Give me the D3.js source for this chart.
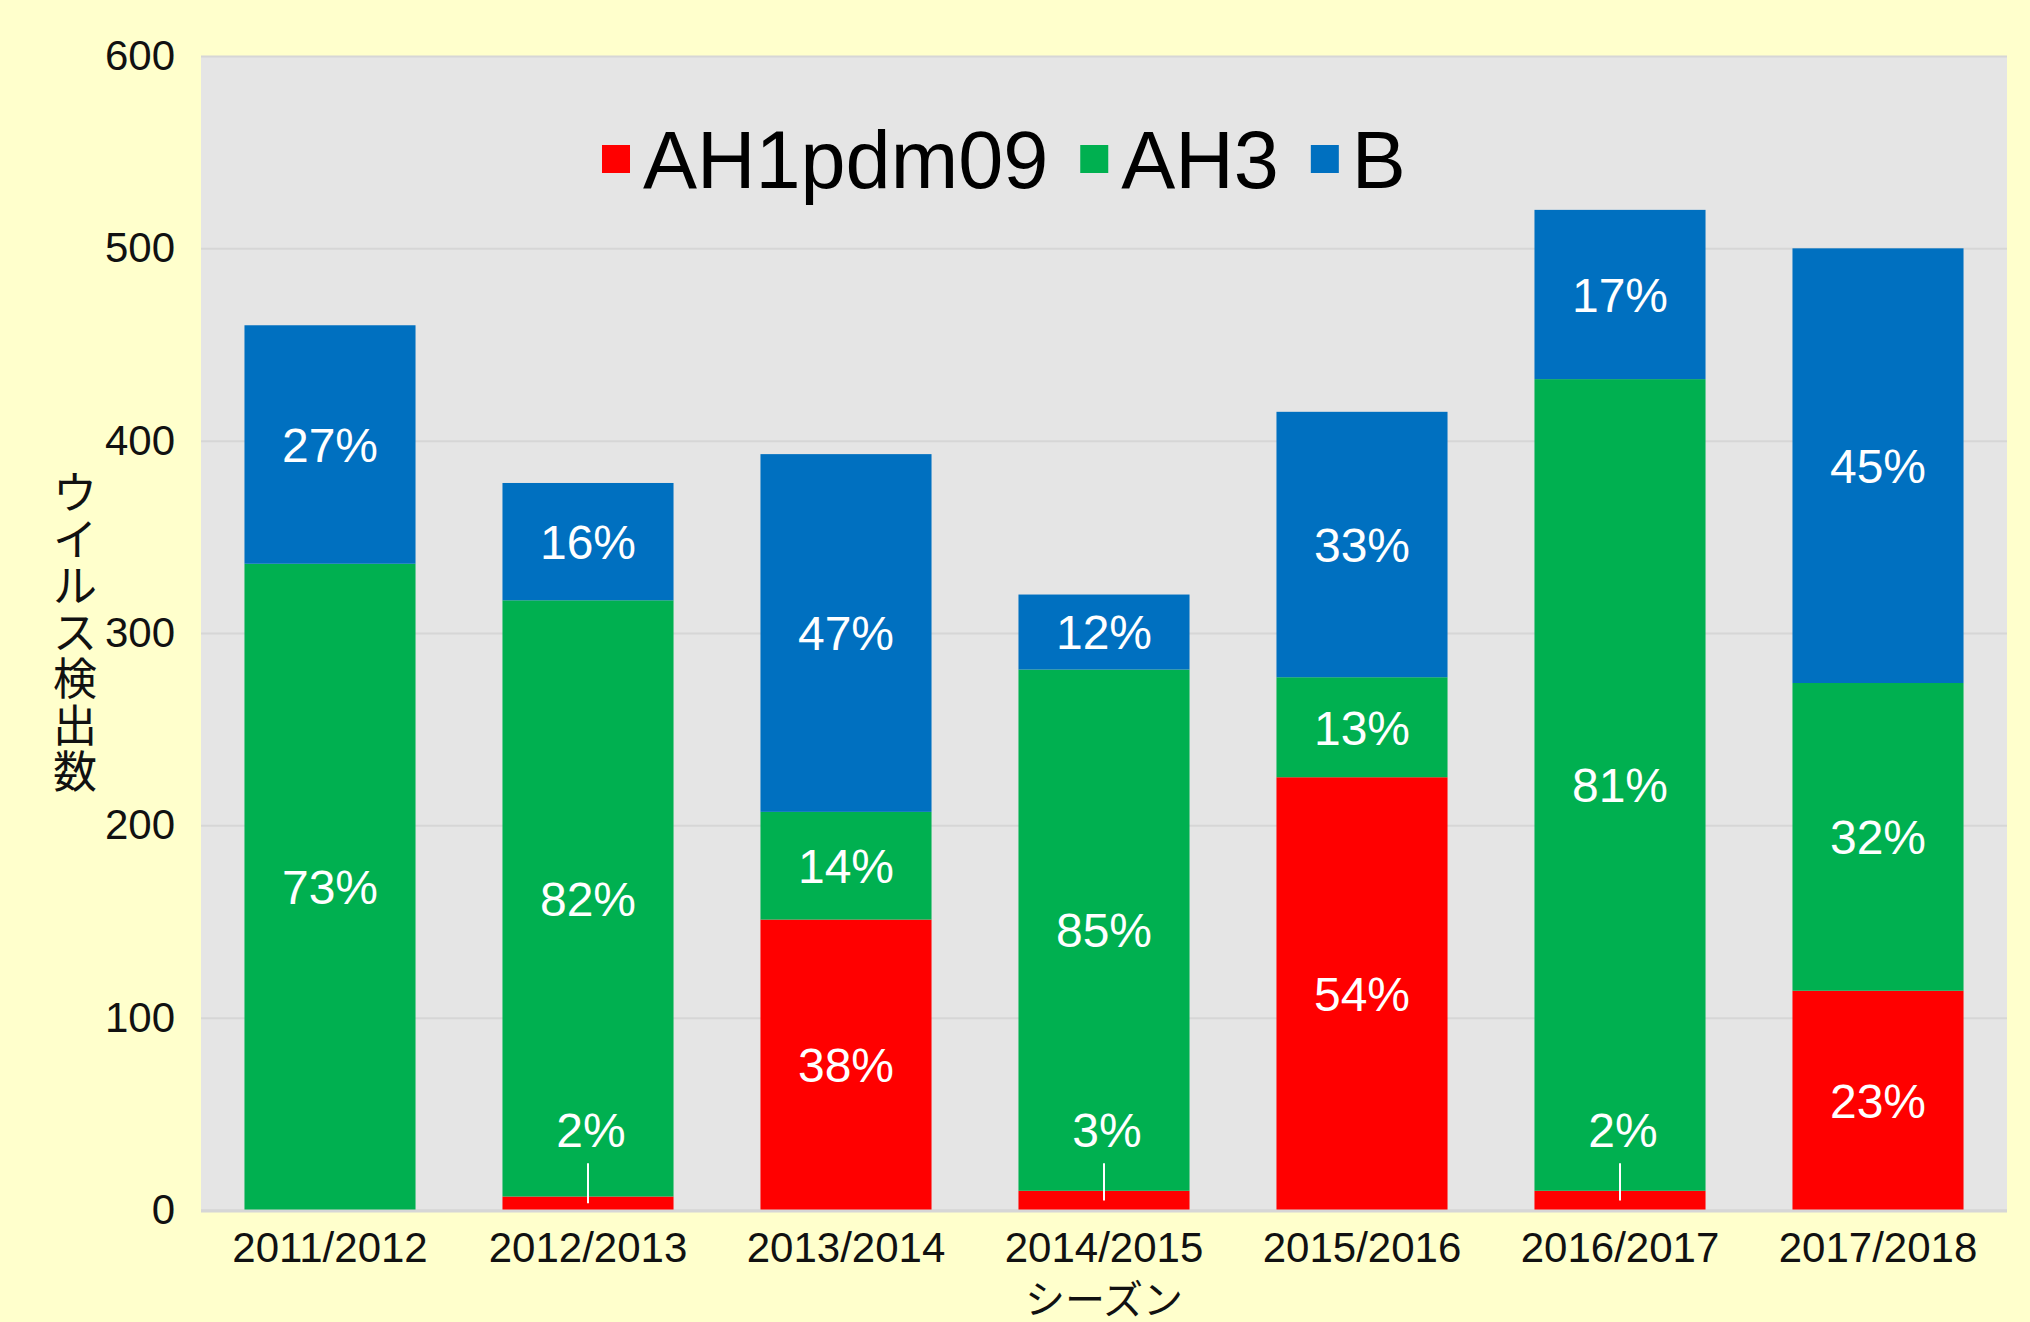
<!DOCTYPE html>
<html>
<head>
<meta charset="utf-8">
<script src="https://cdn.jsdelivr.net/npm/d3@7"></script>
<style>
  html, body { margin: 0; padding: 0; background: #ffffcc; }
  svg { display: block; }
</style>
</head>
<body>
<div id="chart"></div>
<script>
// Virus detections per season, stacked by subtype
const categories = ['2011/2012', '2012/2013', '2013/2014', '2014/2015', '2015/2016', '2016/2017', '2017/2018'];
const seriesNames = ['AH1pdm09', 'AH3', 'B'];
const ah1Values = [0, 7, 151, 10, 225, 10, 114];
const ah3Values = [336, 310, 56, 271, 52, 422, 160];
const bValues = [124, 61, 186, 39, 138, 88, 226];
const yTicks = [0, 100, 200, 300, 400, 500, 600];
const yTitle = 'ウイルス検出数';
const xTitle = 'シーズン';

const W = 2030, H = 1322;
const margin = { top: 56, right: 23, bottom: 112, left: 201 };
const colors = ['#ff0000', '#00b050', '#0070c0'];
const font = "'Liberation Sans', 'Noto Sans CJK JP', sans-serif";

const svg = d3.select('#chart')
  .append('svg')
  .attr('width', W)
  .attr('height', H)
  .style('font-family', font);

svg.append('rect')
  .attr('width', W)
  .attr('height', H)
  .attr('fill', '#ffffcc');

const x = d3.scaleBand()
  .domain(categories)
  .range([margin.left, W - margin.right])
  .paddingInner(0.337)
  .paddingOuter(0.1685);

const y = d3.scaleLinear()
  .domain([0, 600])
  .range([H - margin.bottom, margin.top]);

// plot background
svg.append('rect')
  .attr('x', margin.left)
  .attr('y', y(600))
  .attr('width', W - margin.right - margin.left)
  .attr('height', y(0) - y(600))
  .attr('fill', '#e5e5e5');

// gridlines
svg.append('g')
  .attr('transform', `translate(${margin.left},0)`)
  .call(d3.axisLeft(y).tickValues(yTicks).tickSize(-(W - margin.right - margin.left)).tickFormat(''))
  .call(g => g.select('.domain').remove())
  .call(g => g.selectAll('line').attr('stroke', '#d6d6d6').attr('stroke-width', 2));

// y tick labels
svg.append('g')
  .attr('transform', `translate(${margin.left},0)`)
  .call(d3.axisLeft(y).tickValues(yTicks).tickSize(0).tickPadding(26))
  .call(g => g.select('.domain').remove())
  .call(g => g.selectAll('text')
    .style('font-family', font)
    .style('font-size', '42px')
    .attr('fill', '#111'));

// stacked data
const rows = categories.map((c, i) => ({
  season: c,
  AH1pdm09: ah1Values[i],
  AH3: ah3Values[i],
  B: bValues[i]
}));
const stacked = d3.stack().keys(seriesNames)(rows);

const layers = svg.append('g')
  .selectAll('g')
  .data(stacked)
  .join('g')
  .attr('fill', (d, i) => colors[i]);

layers.selectAll('rect')
  .data(d => d)
  .join('rect')
  .attr('x', d => x(d.data.season))
  .attr('y', d => y(d[1]))
  .attr('width', x.bandwidth())
  .attr('height', d => y(d[0]) - y(d[1]));

// bottom axis line
svg.append('line')
  .attr('x1', margin.left)
  .attr('x2', W - margin.right)
  .attr('y1', y(0) + 1)
  .attr('y2', y(0) + 1)
  .attr('stroke', '#d6d6d6')
  .attr('stroke-width', 3);

// percentage labels
const labels = svg.append('g')
  .style('font-size', '48px')
  .attr('fill', '#fff')
  .attr('text-anchor', 'middle');

stacked.forEach(layer => {
  layer.forEach(d => {
    const v = d[1] - d[0];
    if (v <= 0) return;
    const total = d.data.AH1pdm09 + d.data.AH3 + d.data.B;
    const pct = Math.round(v / total * 100) + '%';
    const cx = x(d.data.season) + x.bandwidth() / 2;
    if (v < 20) {
      // small slice: label above with a leader line
      const ly = y(42);
      labels.append('text')
        .attr('x', cx + 3)
        .attr('y', ly)
        .attr('dy', '0.36em')
        .text(pct);
      labels.append('line')
        .attr('x1', cx)
        .attr('x2', cx)
        .attr('y1', ly + 34)
        .attr('y2', y((d[0] + d[1]) / 2))
        .attr('stroke', '#fff')
        .attr('stroke-width', 2);
    } else {
      labels.append('text')
        .attr('x', cx)
        .attr('y', y((d[0] + d[1]) / 2))
        .attr('dy', '0.36em')
        .text(pct);
    }
  });
});

// x tick labels
svg.append('g')
  .attr('transform', `translate(0,${y(0)})`)
  .call(d3.axisBottom(x).tickSize(0).tickPadding(22))
  .call(g => g.select('.domain').remove())
  .call(g => g.selectAll('text')
    .style('font-family', font)
    .style('font-size', '42px')
    .attr('fill', '#111'));

// x axis title
svg.append('text')
  .attr('x', x.range()[0] + (x.range()[1] - x.range()[0]) / 2)
  .attr('y', 1300)
  .attr('text-anchor', 'middle')
  .attr('dominant-baseline', 'central')
  .style('font-size', '40px')
  .attr('fill', '#111')
  .text(xTitle);

// y axis title, stacked vertically
const yTitleG = svg.append('text')
  .attr('text-anchor', 'middle')
  .style('font-size', '44px')
  .attr('fill', '#111');
const chars = Array.from(yTitle);
const step = 46.5;
const startY = (y(0) + y(600)) / 2 - step * (chars.length - 1) / 2;
chars.forEach((ch, i) => {
  yTitleG.append('tspan')
    .attr('x', 75)
    .attr('y', startY + i * step)
    .attr('dy', '0.36em')
    .text(ch);
});

// legend
const legend = svg.append('g')
  .attr('transform', 'translate(602,159)');
let lx = 0;
seriesNames.forEach((name, i) => {
  legend.append('rect')
    .attr('x', lx)
    .attr('y', -14)
    .attr('width', 28)
    .attr('height', 28)
    .attr('fill', colors[i]);
  const t = legend.append('text')
    .attr('x', lx + 41)
    .attr('y', 29)
    .style('font-size', '81px')
    .attr('fill', '#000')
    .text(name);
  lx += 41 + t.node().getComputedTextLength() + 32;
});
</script>
</body>
</html>
